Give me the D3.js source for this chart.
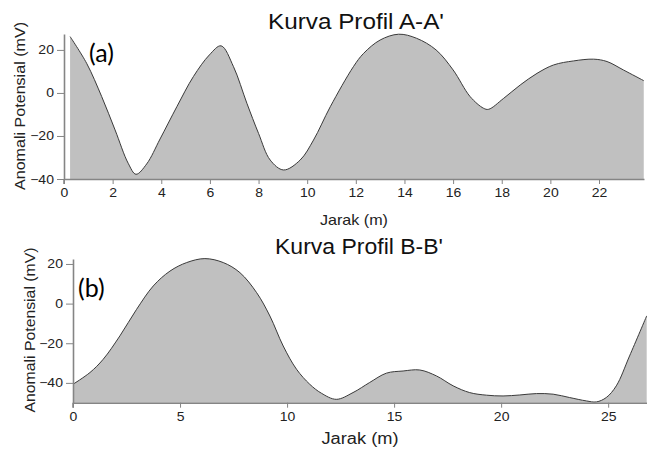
<!DOCTYPE html>
<html><head><meta charset="utf-8">
<script src="https://cdn.jsdelivr.net/npm/d3@7"></script>
<style>body{margin:0;background:#fff}svg{display:block}</style>
</head><body>
<script>
// Profile A-A'
const xA = [0.25,0.93,1.55,2.1,2.64,2.96,3.4,3.95,4.64,5.32,5.98,6.46,6.97,7.52,8.0,8.48,9.03,9.71,10.26,10.95,11.9,12.32,13.0,13.76,14.5,15.3,16.0,16.7,17.25,17.46,18.08,18.76,19.45,20.13,20.96,21.78,22.33,23.0,23.84];
const yA = [26.2,13.8,-1.7,-17.2,-32.7,-37.8,-33,-21.4,-6.4,7.6,17.7,21.9,12.2,-4.8,-18.8,-31.2,-35.8,-31.2,-21.9,-6.4,12.2,18.4,24.6,27.3,25.4,20,10.7,-1.7,-7.1,-7.6,-2.5,3.7,9.1,13,14.9,15.7,14.6,10.7,5.7];
const xTicksA = [0,2,4,6,8,10,12,14,16,18,20,22];
const yTicksA = [-40,-20,0,20];
// Profile B-B'
const xB = [0,0.79,1.41,2.19,2.97,3.75,4.53,5.31,6.16,7.02,7.8,8.58,9.2,9.82,10.44,11.06,11.6,12.3,13.08,13.86,14.64,15.42,16.2,16.98,17.76,18.53,19.31,20.09,20.87,21.65,22.43,23.2,23.98,24.45,24.91,25.38,26.0,26.8];
const yB = [-40.7,-34.8,-28.1,-16.3,-2.9,8.9,16.4,20.7,22.7,20.7,15.6,5.5,-6.3,-21.4,-33.1,-40.7,-45.2,-48.3,-44.9,-39.8,-35.1,-34,-33.5,-36.5,-41.5,-44.9,-46.2,-46.6,-46.1,-45.4,-45.7,-47.4,-49.1,-49.6,-47.4,-41.5,-26.4,-6.2];
const xTicksB = [0,5,10,15,20,25];
const yTicksB = [-40,-20,0,20];

const W = 647, H = 465;
const svg = d3.select("body").append("svg").attr("width", W).attr("height", H);
const axisCol = "#858585", textCol = "#222";
const FONT = "Liberation Sans, Arial, sans-serif";

function panel(o) {
  const g = svg.append("g");
  const x = d3.scaleLinear().domain(o.xd).range(o.xr);
  const y = d3.scaleLinear().domain(o.yd).range(o.yr);
  const data = o.xs.map((v, i) => [v, o.ys[i]]);
  const curve = d3.curveCatmullRom.alpha(0.5);
  const area = d3.area().x(d => x(d[0])).y0(y(o.yd[0])).y1(d => y(d[1])).curve(curve);
  const line = d3.line().x(d => x(d[0])).y(d => y(d[1])).curve(curve);
  g.append("path").attr("d", area(data)).attr("fill", "#c0c0c0");
  g.append("path").attr("d", line(data)).attr("fill", "none").attr("stroke", "#3a3a3a").attr("stroke-width", 1);

  const xa = g.append("g").attr("transform", `translate(0,${y(o.yd[0])})`)
    .call(d3.axisBottom(x).tickValues(o.xt).tickSize(5).tickPadding(4).tickSizeOuter(0));
  const ya = g.append("g").attr("transform", `translate(${x(0)},0)`)
    .call(d3.axisLeft(y).tickValues(o.yt).tickSize(7).tickPadding(2).tickSizeOuter(0));
  [xa, ya].forEach(a => {
    a.select(".domain").attr("stroke", axisCol).attr("stroke-width", 1.6);
    a.selectAll(".tick line").attr("stroke", axisCol);
    a.selectAll("text").attr("fill", textCol).style("font-family", FONT).style("font-size", "12.5px")
      .attr("transform", "scale(1.12,1)");
  });
  g.append("line").attr("x1", x(0)).attr("x2", x(0)).attr("y1", y(o.yd[0])).attr("y2", y(o.yd[0]) + 5)
    .attr("stroke", axisCol).attr("stroke-width", 1.6);

  g.append("text").attr("x", o.titleX).attr("y", o.titleY).attr("text-anchor", "middle")
    .attr("textLength", o.titleLen).attr("lengthAdjust", "spacingAndGlyphs")
    .style("font-family", FONT).style("font-size", "21.5px").attr("fill", "#111").text(o.title);
  g.append("text").attr("x", o.xlX).attr("y", o.xlY).attr("text-anchor", "middle")
    .attr("textLength", o.xlLen).attr("lengthAdjust", "spacingAndGlyphs")
    .style("font-family", FONT).style("font-size", o.xlSize).attr("fill", textCol).text("Jarak (m)");
  g.append("text").attr("transform", `translate(${o.ylX},${o.ylY}) rotate(-90)`).attr("text-anchor", "middle")
    .attr("textLength", o.ylLen).attr("lengthAdjust", "spacingAndGlyphs")
    .style("font-family", FONT).style("font-size", o.ylSize).attr("fill", textCol).text("Anomali Potensial (mV)");
  g.append("text").attr("x", o.tagX).attr("y", o.tagY)
    .style("font-family", "Lato, 'Open Sans', sans-serif").style("font-size", "25px").attr("fill", "#000").text(o.tag);
}

panel({xs: xA, ys: yA, xt: xTicksA, yt: yTicksA, xd: [0, 23.85], xr: [64, 644], yd: [-40, 27.4], yr: [179, 34],
  title: "Kurva Profil A-A'", titleX: 356, titleY: 28.5, titleLen: 176,
  xlX: 354, xlY: 225, xlSize: "14.5px", xlLen: 68, ylX: 25, ylY: 106, ylSize: "14px", ylLen: 168,
  tag: "(a)", tagX: 89, tagY: 62});
panel({xs: xB, ys: yB, xt: xTicksB, yt: yTicksB, xd: [0, 26.8], xr: [73, 646.7], yd: [-50, 22.5], yr: [402.7, 259],
  title: "Kurva Profil B-B'", titleX: 359, titleY: 253.5, titleLen: 168,
  xlX: 360, xlY: 444, xlSize: "16px", xlLen: 77, ylX: 35, ylY: 330, ylSize: "14px", ylLen: 165,
  tag: "(b)", tagX: 78, tagY: 297});
</script>
</body></html>
